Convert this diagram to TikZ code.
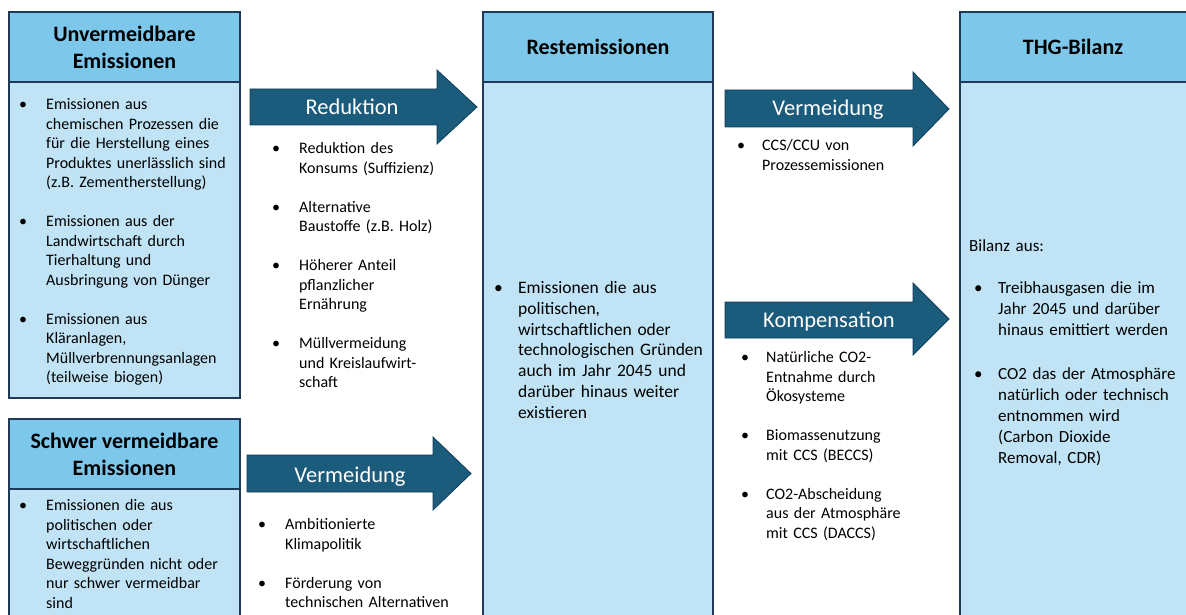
\documentclass[tikz,border=0pt]{standalone}
\usepackage{fontspec}
\setmainfont{Carlito}
\usetikzlibrary{positioning}

\definecolor{kopfblau}{RGB}{125,200,234}
\definecolor{feldblau}{RGB}{192,228,245}
\definecolor{rand}{RGB}{31,58,88}
\definecolor{pfeil}{RGB}{27,92,124}
\definecolor{pfeilrand}{RGB}{16,60,86}

\newlength{\pktein}
\setlength{\pktein}{27pt}
\newcommand{\pkt}[1]{\par{\let\\\newline\hangindent=\pktein\hangafter=1\noindent\makebox[\pktein][l]{\strut\textbullet}#1\par}}
\newcommand{\luecke}[1][\baselineskip]{\vskip#1}

\begin{document}
\begin{tikzpicture}[x=1pt,y=-1pt,
kopf/.style={draw=rand, line width=1.4pt, fill=kopfblau},
feld/.style={draw=rand, line width=1.4pt, fill=feldblau},
titel/.style={align=center, inner sep=0pt, font=\fontsize{22}{27}\selectfont\bfseries},
pfeilform/.style={draw=pfeilrand, line width=0.8pt, fill=pfeil},
pfeiltext/.style={text=white, inner sep=0pt, font=\fontsize{22.5}{27}\selectfont},
liste/.style={anchor=north west, inner sep=0pt, text width=#1, font=\fontsize{16}{19.5}\selectfont\raggedright},
engliste/.style={anchor=north west, inner sep=0pt, text width=#1, font=\fontsize{16}{19.5}\selectfont\raggedright\setlength{\pktein}{25pt}},
grossliste/.style={anchor=north west, inner sep=0pt, text width=#1, font=\fontsize{17.5}{20.8}\selectfont\raggedright\setlength{\pktein}{24pt}},
bilanzliste/.style={anchor=north west, inner sep=0pt, text width=#1, font=\fontsize{17}{20.8}\selectfont\raggedright\setlength{\pktein}{24pt}}
]
\useasboundingbox (0,0) rectangle (1186,615);

% Kaesten
\draw[feld] (9,82) rectangle (240,398);
\draw[kopf] (9,12) rectangle (240,82);
\draw[feld] (9,489) rectangle (240,625);
\draw[kopf] (9,419) rectangle (240,489);
\draw[feld] (483,82) rectangle (713,625);
\draw[kopf] (483,12) rectangle (713,82);
\draw[feld] (960,82) rectangle (1195,625);
\draw[kopf] (960,12) rectangle (1195,82);

\node[titel] (unv) at (124.5,47) {Unvermeidbare\\Emissionen};
\node[titel] (schwer) at (124.5,454) {Schwer vermeidbare\\Emissionen};
\node[titel] (rest) at (598,47) {Restemissionen};
\node[titel] (thg) at (1073,47) {THG-Bilanz};

% Pfeile
\draw[pfeilform] (250,89) -- (437,89) -- (437,70) -- (477,107) -- (437,144) -- (437,125) -- (250,125) -- cycle;
\draw[pfeilform] (247,455) -- (433,455) -- (433,437) -- (471,473.5) -- (433,510) -- (433,492) -- (247,492) -- cycle;
\draw[pfeilform] (725,90) -- (913,90) -- (913,72) -- (949,109) -- (913,146) -- (913,127) -- (725,127) -- cycle;
\draw[pfeilform] (725,302) -- (913,302) -- (913,283) -- (949,319) -- (913,355) -- (913,338) -- (725,338) -- cycle;

\node[pfeiltext] (reduktion) at (352,107) {Reduktion};
\node[pfeiltext] (vermeidung) at (350,477) {Vermeidung};
\node[pfeiltext] (vermeidung2) at (828,110) {Vermeidung};
\node[pfeiltext] (kompensation) at (829,322) {Kompensation};

% Listen
\node[liste=215pt] (unvliste) at (19,90) {\pkt{Emissionen aus\\ chemischen Prozessen die\\ für die Herstellung eines\\ Produktes unerlässlich sind\\ (z.B. Zementherstellung)}\luecke
\pkt{Emissionen aus der\\ Landwirtschaft durch\\ Tierhaltung und\\ Ausbringung von Dünger}\luecke
\pkt{Emissionen aus\\ Kläranlagen,\\ Müllverbrennungsanlagen\\ (teilweise biogen)}};

\node[liste=215pt] (schwerliste) at (19,491) {\pkt{Emissionen die aus\\ politischen oder\\ wirtschaftlichen\\ Beweggründen nicht oder\\ nur schwer vermeidbar\\ sind}};

\node[liste=195pt] (redliste) at (272,134) {\pkt{Reduktion des\\ Konsums (Suffizienz)}\luecke
\pkt{Alternative\\ Baustoffe (z.B. Holz)}\luecke
\pkt{Höherer Anteil\\ pflanzlicher\\ Ernährung}\luecke
\pkt{Müllvermeidung\\ und Kreislaufwirt-\\ schaft}};

\node[liste=215pt] (vermliste) at (258,510) {\pkt{Ambitionierte\\ Klimapolitik}\luecke
\pkt{Förderung von\\ technischen Alternativen}};

\node[grossliste=215pt] (restliste) at (494,272.5) {\pkt{Emissionen die aus\\ politischen,\\ wirtschaftlichen oder\\ technologischen Gründen\\ auch im Jahr 2045 und\\ darüber hinaus weiter\\ existieren}};

\node[engliste=205pt] (ccsliste) at (737,131) {\pkt{CCS/CCU von\\ Prozessemissionen}};

\node[engliste=205pt] (kompliste) at (741,343) {\pkt{Natürliche CO2-\\ Entnahme durch\\ Ökosysteme}\luecke
\pkt{Biomassenutzung\\ mit CCS (BECCS)}\luecke
\pkt{CO2-Abscheidung\\ aus der Atmosphäre\\ mit CCS (DACCS)}};

\node[bilanzliste=205pt] (bilanz) at (969,236.5) {\strut Bilanz aus:};
\node[bilanzliste=210pt] (bilanzpunkte) at (974,272.5) {\pkt{Treibhausgasen die im\\ Jahr 2045 und darüber\\ hinaus emittiert werden}\luecke[24pt]
\pkt{CO2 das der Atmosphäre\\ natürlich oder technisch\\ entnommen wird\\ (Carbon Dioxide\\ Removal, CDR)}};
\end{tikzpicture}
\end{document}
